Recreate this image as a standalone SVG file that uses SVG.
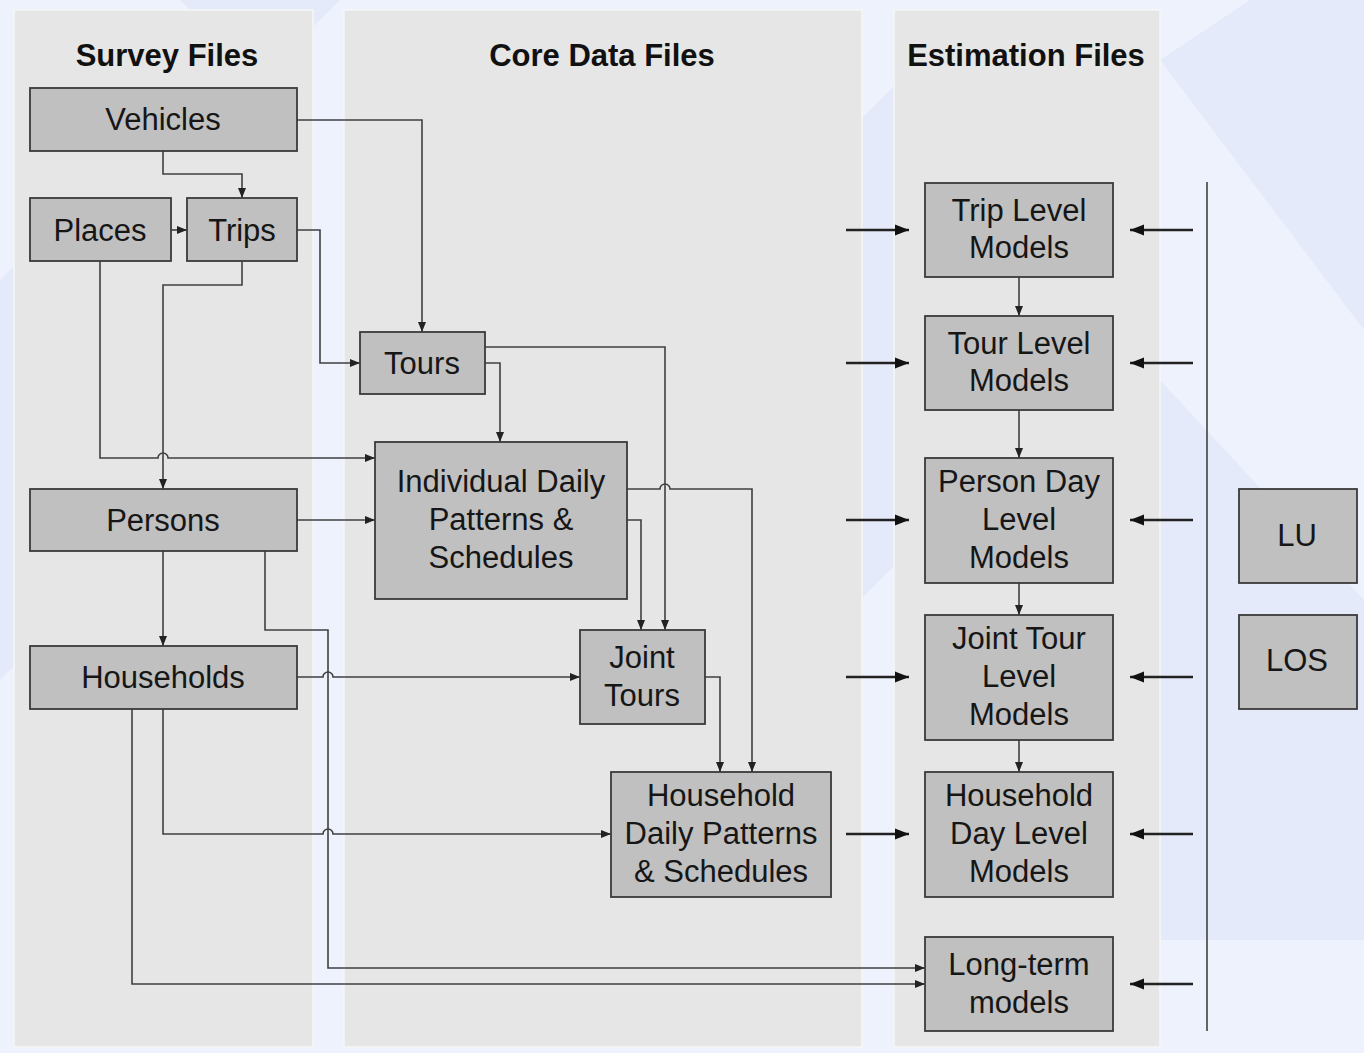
<svg xmlns="http://www.w3.org/2000/svg" width="1364" height="1053" viewBox="0 0 1364 1053">
<style>
.panel{fill:#e6e6e6;stroke:#f6f6f6;stroke-width:1.5}
.node rect{fill:#c0c0c0;stroke:#3a3a3a;stroke-width:1.8}
.node text{font-family:"Liberation Sans",Arial,sans-serif;font-size:31px;fill:#161616;text-anchor:middle}
.hdr{font-family:"Liberation Sans",Arial,sans-serif;font-size:31px;font-weight:bold;fill:#111;text-anchor:middle}
.c{fill:none;stroke:#404040;stroke-width:1.6;marker-end:url(#ah)}
.cn{fill:none;stroke:#404040;stroke-width:1.6}
.big{fill:none;stroke:#222;stroke-width:2.6;marker-end:url(#bh)}
.bg2{fill:#e5eafb}
</style>
<defs>
<marker id="ah" markerUnits="userSpaceOnUse" markerWidth="10" markerHeight="10" viewBox="0 0 10 10" refX="10" refY="5" orient="auto">
<path d="M0,1 L10,5 L0,9 z" fill="#222"/>
</marker>
<marker id="bh" markerUnits="userSpaceOnUse" markerWidth="14" markerHeight="12" viewBox="0 0 14 12" refX="14" refY="6" orient="auto">
<path d="M0,0.5 L14,6 L0,11.5 z" fill="#111"/>
</marker>
</defs>
<rect width="1364" height="1053" fill="#eef2fc"/>
<polygon class="bg2" points="180,0 340,0 300,40 220,40"/>
<polygon class="bg2" points="0,280 120,160 120,560 0,680"/>
<polygon class="bg2" points="1160,60 1250,0 1364,0 1364,330"/>
<polygon class="bg2" points="1160,380 1364,600 1364,940 1160,940"/>
<polygon class="bg2" points="860,120 900,80 900,560 860,600"/>
<rect class="panel" x="14" y="10" width="299" height="1037"/>
<rect class="panel" x="344" y="10" width="518" height="1037"/>
<rect class="panel" x="894" y="10" width="266" height="1037"/>
<text class="hdr" x="167" y="66">Survey Files</text>
<text class="hdr" x="602" y="66">Core Data Files</text>
<text class="hdr" x="1026" y="66">Estimation Files</text>
<g id="connectors">
<path class="c" d="M297,120 H422 V332"/>
<path class="c" d="M163,151 V174 H242 V198"/>
<path class="c" d="M171,230 H187"/>
<path class="c" d="M297,230 H320 V363 H360"/>
<path class="c" d="M242,261 V285 H163 V489"/>
<path class="c" d="M100,261 V458 H158 A5,5 0 0 1 168,458 H375"/>
<path class="c" d="M485,363 H500 V442"/>
<path class="c" d="M485,347 H665 V630"/>
<path class="c" d="M297,520 H375"/>
<path class="c" d="M163,551 V646"/>
<path class="c" d="M265,551 V630 H328 V968 H925"/>
<path class="c" d="M627,489 H660 A5,5 0 0 1 670,489 H752 V772"/>
<path class="c" d="M627,520 H641 V630"/>
<path class="c" d="M297,677 H323 A5,5 0 0 1 333,677 H580"/>
<path class="c" d="M705,677 H720 V772"/>
<path class="c" d="M163,709 V834 H323 A5,5 0 0 1 333,834 H611"/>
<path class="c" d="M132,709 V984 H925"/>
<path class="c" d="M1019,277 V316"/>
<path class="c" d="M1019,410 V458"/>
<path class="c" d="M1019,583 V615"/>
<path class="c" d="M1019,740 V772"/>
<path class="big" d="M846,230 H909"/>
<path class="big" d="M846,363 H909"/>
<path class="big" d="M846,520 H909"/>
<path class="big" d="M846,677 H909"/>
<path class="big" d="M846,834 H909"/>
<path class="big" d="M1193,230 H1130"/>
<path class="big" d="M1193,363 H1130"/>
<path class="big" d="M1193,520 H1130"/>
<path class="big" d="M1193,677 H1130"/>
<path class="big" d="M1193,834 H1130"/>
<path class="big" d="M1193,984 H1130"/>
<path class="cn" d="M1207,182 V1031" stroke-width="2.4"/>
</g>
<g id="vehicles" class="node"><rect x="30" y="88" width="267" height="63"/><text x="163" y="130">Vehicles</text></g>
<g id="places" class="node"><rect x="30" y="198" width="141" height="63"/><text x="100" y="241">Places</text></g>
<g id="trips" class="node"><rect x="187" y="198" width="110" height="63"/><text x="242" y="241">Trips</text></g>
<g id="tours" class="node"><rect x="360" y="332" width="125" height="62"/><text x="422" y="374">Tours</text></g>
<g id="idps" class="node"><rect x="375" y="442" width="252" height="157"/><text x="501" y="492">Individual Daily</text><text x="501" y="530">Patterns &amp;</text><text x="501" y="568">Schedules</text></g>
<g id="persons" class="node"><rect x="30" y="489" width="267" height="62"/><text x="163" y="531">Persons</text></g>
<g id="households" class="node"><rect x="30" y="646" width="267" height="63"/><text x="163" y="688">Households</text></g>
<g id="jointtours" class="node"><rect x="580" y="630" width="125" height="94"/><text x="642" y="668">Joint</text><text x="642" y="706">Tours</text></g>
<g id="hdps" class="node"><rect x="611" y="772" width="220" height="125"/><text x="721" y="806">Household</text><text x="721" y="844">Daily Patterns</text><text x="721" y="882">&amp; Schedules</text></g>
<g id="triplevel" class="node"><rect x="925" y="183" width="188" height="94"/><text x="1019" y="221">Trip Level</text><text x="1019" y="258">Models</text></g>
<g id="tourlevel" class="node"><rect x="925" y="316" width="188" height="94"/><text x="1019" y="354">Tour Level</text><text x="1019" y="391">Models</text></g>
<g id="persondaylevel" class="node"><rect x="925" y="458" width="188" height="125"/><text x="1019" y="492">Person Day</text><text x="1019" y="530">Level</text><text x="1019" y="568">Models</text></g>
<g id="jointtourlevel" class="node"><rect x="925" y="615" width="188" height="125"/><text x="1019" y="649">Joint Tour</text><text x="1019" y="687">Level</text><text x="1019" y="725">Models</text></g>
<g id="hhdaylevel" class="node"><rect x="925" y="772" width="188" height="125"/><text x="1019" y="806">Household</text><text x="1019" y="844">Day Level</text><text x="1019" y="882">Models</text></g>
<g id="longterm" class="node"><rect x="925" y="937" width="188" height="94"/><text x="1019" y="975">Long-term</text><text x="1019" y="1013">models</text></g>
<g id="lu" class="node"><rect x="1239" y="489" width="118" height="94"/><text x="1297" y="546">LU</text></g>
<g id="los" class="node"><rect x="1239" y="615" width="118" height="94"/><text x="1297" y="671">LOS</text></g>
</svg>
